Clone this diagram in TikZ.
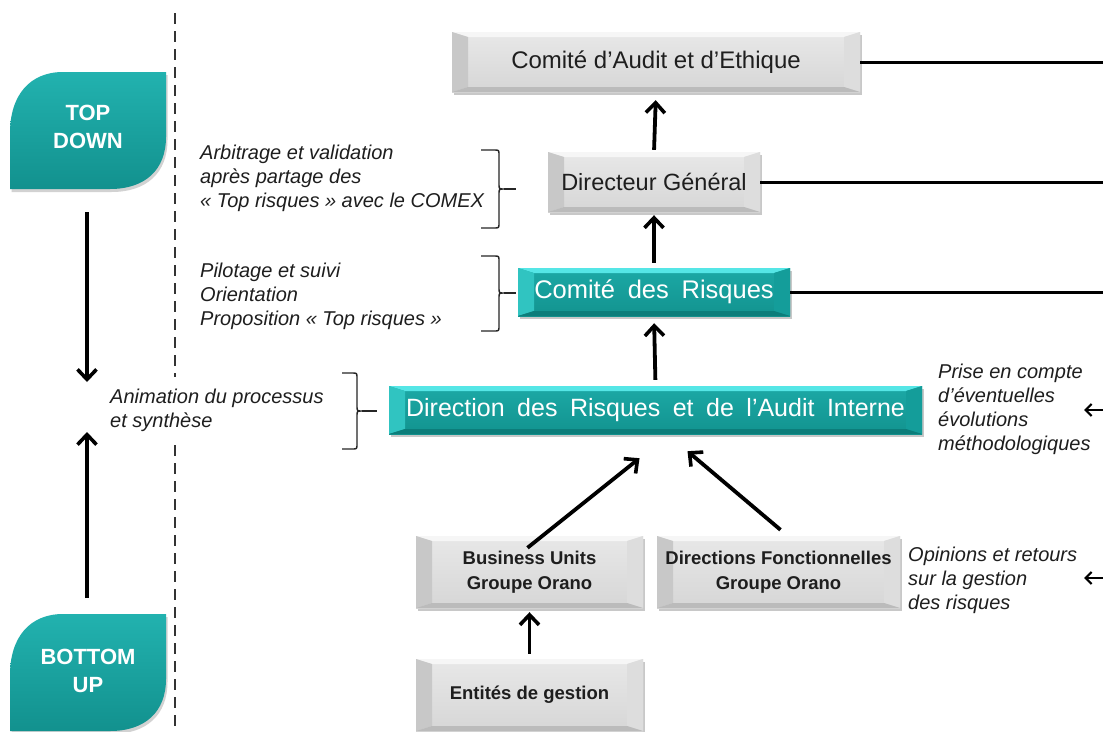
\documentclass[tikz,border=0pt]{standalone}
\usepackage{fontspec}
\setmainfont{Liberation Sans}
\usetikzlibrary{arrows.meta,shadows}

\definecolor{tface1}{HTML}{1CA9A6}
\definecolor{tface2}{HTML}{12938F}
\definecolor{ttop}{HTML}{55E6E6}
\definecolor{tleft}{HTML}{30C4C1}
\definecolor{tright}{HTML}{149D9A}
\definecolor{tbot}{HTML}{0C7D7A}
\definecolor{gface1}{HTML}{E8E8E8}
\definecolor{gface2}{HTML}{D6D6D6}
\definecolor{gtop}{HTML}{F6F6F6}
\definecolor{gleft}{HTML}{C8C8C8}
\definecolor{gright}{HTML}{DDDDDD}
\definecolor{gbot}{HTML}{BBBBBB}
\definecolor{leaf1}{HTML}{22B2AF}
\definecolor{leaf2}{HTML}{12918E}
\definecolor{txt}{HTML}{1E1E1E}

\newcommand{\widespc}{\spaceskip=0.5em plus 0.1em\relax}

\tikzset{
  bevels/.style n args={4}{path picture={
    \fill[#1] (path picture bounding box.north west) -- (path picture bounding box.north east)
      -- ([xshift=-16pt,yshift=-5pt]path picture bounding box.north east)
      -- ([xshift=16pt,yshift=-5pt]path picture bounding box.north west) -- cycle;
    \fill[#2] (path picture bounding box.north west) -- ([xshift=16pt,yshift=-5pt]path picture bounding box.north west)
      -- ([xshift=16pt,yshift=5pt]path picture bounding box.south west)
      -- (path picture bounding box.south west) -- cycle;
    \fill[#3] (path picture bounding box.north east) -- ([xshift=-16pt,yshift=-5pt]path picture bounding box.north east)
      -- ([xshift=-16pt,yshift=5pt]path picture bounding box.south east)
      -- (path picture bounding box.south east) -- cycle;
    \fill[#4] (path picture bounding box.south west) -- ([xshift=16pt,yshift=5pt]path picture bounding box.south west)
      -- ([xshift=-16pt,yshift=5pt]path picture bounding box.south east)
      -- (path picture bounding box.south east) -- cycle;
  }},
  greybox/.style={rectangle, inner sep=0pt, top color=gface1, bottom color=gface2,
    bevels={gtop}{gleft}{gright}{gbot}, text=txt,
    drop shadow={shadow xshift=1.5pt, shadow yshift=-3pt, opacity=0.3, fill=black!70}},
  tealbox/.style={rectangle, inner sep=0pt, top color=tface1, bottom color=tface2,
    bevels={ttop}{tleft}{tright}{tbot}, text=white,
    drop shadow={shadow xshift=1.5pt, shadow yshift=-3pt, opacity=0.3, fill=black!70}},
  leaf/.style={top color=leaf1, bottom color=leaf2,
    drop shadow={shadow xshift=1.5pt, shadow yshift=-3pt, opacity=0.25, fill=black!70}},
  leaftext/.style={text=white, font=\bfseries\fontsize{22}{28}\selectfont, align=center, inner sep=0pt},
  note/.style={font=\itshape\fontsize{20}{24}\selectfont, align=left, anchor=west, inner sep=0pt, text=txt},
  arr/.style={line width=3.8pt, -{Straight Barb[length=10pt,width=19pt,line width=3.6pt]}},
  thinarr/.style={line width=2.2pt, -{Straight Barb[length=6pt,width=12pt,line width=2.2pt]}},
  hline/.style={line width=3pt},
  bracket/.style={line width=1.4pt, black!85},
}

\begin{document}
\begin{tikzpicture}[x=1pt,y=-1pt]
\useasboundingbox (0,0) rectangle (1103,731);
\fill[white] (0,0) rectangle (1103,731);

% dashed separator
\draw[line width=2.4pt, black!80, dash pattern=on 11pt off 7pt] (175,13) -- (175,731);

% leaves
\path[leaf] (10,189) -- (10,133) .. controls (10,95) and (30,72) .. (63,72) -- (166,72)
  -- (166,137) .. controls (166,170) and (145,189) .. (110,189) -- cycle;
\node[leaftext] (td) at (88,127) {TOP\\DOWN};
\path[leaf] (10,731) -- (10,675) .. controls (10,637) and (30,614) .. (63,614) -- (166,614)
  -- (166,679) .. controls (166,712) and (145,731) .. (110,731) -- cycle;
\node[leaftext] (bu2) at (88,671) {BOTTOM\\UP};

\coordinate (tda) at (87,212);
\coordinate (tdb) at (87,382);
\coordinate (bua) at (87,598);
\coordinate (bub) at (87,432);
\draw[arr] (tda) -- (tdb);
\draw[arr] (bua) -- (bub);

% boxes
\node[greybox, minimum width=408pt, minimum height=60pt, font=\fontsize{24}{28}\selectfont] (cae) at (656,62) {Comité d’Audit et d’Ethique};
\node[greybox, minimum width=212pt, minimum height=60pt, font=\fontsize{23.5}{27}\selectfont] (dg) at (654,182) {Directeur Général};
\node[tealbox, minimum width=272pt, minimum height=48pt, font=\fontsize{25.5}{29}\selectfont] (cr) at (654,292) {\widespc Comité des Risques};
\node[tealbox, minimum width=533pt, minimum height=48pt, font=\fontsize{25}{29}\selectfont] (dra) at (655.5,410) {\widespc Direction des Risques et de l’Audit Interne};
\node[greybox, minimum width=227pt, minimum height=72pt, align=center, font=\bfseries\fontsize{18.5}{25}\selectfont] (bu) at (529.5,572) {Business Units\\Groupe Orano};
\node[greybox, minimum width=243pt, minimum height=72pt, align=center, font=\bfseries\fontsize{18.5}{25}\selectfont] (df) at (778.5,572) {Directions Fonctionnelles\\Groupe Orano};
\node[greybox, minimum width=227pt, minimum height=72pt, font=\bfseries\fontsize{18.5}{25}\selectfont] (ent) at (529.5,695) {Entités de gestion};

% vertical arrows
\draw[arr, shorten <=2pt, shorten >=8pt] (dg.north) -- (cae.south);
\draw[arr, shorten <=5pt, shorten >=3pt] (cr.north) -- (dg.south);
\draw[arr, shorten <=6pt, shorten >=7pt] (dra.north) -- (cr.south);
\draw[arr, shorten <=5pt, shorten >=4pt] (ent.north) -- (bu.south);
\draw[arr] ([xshift=-2pt,yshift=-12pt]bu.north) -- ([xshift=-16pt,yshift=-24pt]dra.south);
\draw[arr] ([xshift=2pt,yshift=6pt]df.north) -- ([xshift=32pt,yshift=-17pt]dra.south);

% right lines
\coordinate (r1) at (1103,62);
\coordinate (r2) at (1103,182);
\coordinate (r3) at (1103,292);
\draw[hline] (cae.east) -- (r1);
\draw[hline] (dg.east) -- (r2);
\draw[hline] (cr.east) -- (r3);

% right arrows
\coordinate (p1) at (1103,410);
\coordinate (p1e) at (1084,410);
\coordinate (p2) at (1103,578);
\coordinate (p2e) at (1084,578);
\draw[thinarr] (p1) -- (p1e);
\draw[thinarr] (p2) -- (p2e);

% notes
\node[note] (n1) at (200,178.5) {Arbitrage et validation\\après partage des\\« Top risques » avec le COMEX};
\node[note] (n2) at (200,296) {Pilotage et suivi\\Orientation\\Proposition « Top risques »};
\node[note, fill=white, inner ysep=12pt] (n3) at (110,410) {Animation du processus\\et synthèse};
\node[note] (n4) at (938,409) {Prise en compte\\d’éventuelles\\évolutions\\méthodologiques};
\node[note] (n5) at (908,580) {Opinions et retours\\sur la gestion\\des risques};

% brackets
\draw[bracket] (481,150) -- (494,150) .. controls (499,150) .. (499,155) -- (499,184)
  .. controls (499,189) .. (504,189) .. controls (499,189) .. (499,194) -- (499,223)
  .. controls (499,228) .. (494,228) -- (481,228);
\draw[bracket] (504,189) -- (516,189);
\draw[bracket] (481,256) -- (494,256) .. controls (499,256) .. (499,261) -- (499,288)
  .. controls (499,293) .. (504,293) .. controls (499,293) .. (499,298) -- (499,326)
  .. controls (499,331) .. (494,331) -- (481,331);
\draw[bracket] (504,293) -- (516,293);
\draw[bracket] (342,373) -- (352,373) .. controls (357,373) .. (357,378) -- (357,406)
  .. controls (357,411) .. (362,411) .. controls (357,411) .. (357,416) -- (357,444)
  .. controls (357,449) .. (352,449) -- (342,449);
\draw[bracket] (362,411) -- (377,411);
\end{tikzpicture}
\end{document}
